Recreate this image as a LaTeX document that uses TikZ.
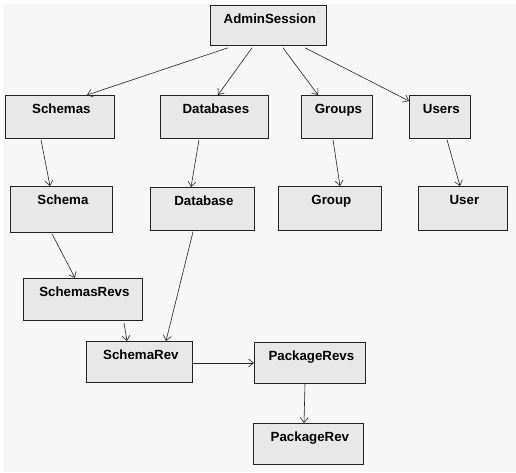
\documentclass[tikz,border=0pt]{standalone}
\usepackage{fontspec}
\setmainfont{Liberation Sans}
\usetikzlibrary{arrows.meta}
\definecolor{bgc}{HTML}{F7F7F7}
\definecolor{boxc}{HTML}{E8E8E8}
\definecolor{linec}{HTML}{222222}
\tikzset{
  cls/.style={draw=linec, line width=0.8pt, fill=boxc, anchor=north west, inner sep=0pt},
  lbl/.style={anchor=base, yshift=-18.5pt, xshift=1.5pt, inner sep=0pt, font=\fontsize{13.3}{15}\selectfont\bfseries},
  conn/.style={draw=linec, line width=0.6pt, -{Straight Barb[length=5pt,width=8pt]}}
}
\newcommand{\cbox}[7]{%
  \node[cls, minimum width=#4pt, minimum height=#5pt, label={[lbl]north:#6}] (#1) at (#2,#3) {};}
\begin{document}
\begin{tikzpicture}[x=1pt,y=-1pt]
\useasboundingbox (0,0) rectangle (516,472);
\fill[white] (0,0) rectangle (516,472);
\fill[bgc] (3,4) rectangle (516,472);
\cbox{admin}{210}{5}{116}{40}{AdminSession}{}
\cbox{schemas}{5}{95}{109}{43}{Schemas}{}
\cbox{databases}{160}{95}{108}{43}{Databases}{}
\cbox{groups}{301}{95}{71}{43}{Groups}{}
\cbox{users}{409}{95}{61}{43}{Users}{}
\cbox{schema}{10}{186}{102}{46}{Schema}{}
\cbox{database}{150}{187}{104}{43}{Database}{}
\cbox{group}{278}{186}{103}{44}{Group}{}
\cbox{user}{418}{186}{89}{44}{User}{}
\cbox{schemasrevs}{23}{278}{119}{42}{SchemasRevs}{}
\cbox{schemarev}{86}{341}{106}{41}{SchemaRev}{}
\cbox{packagerevs}{254}{342}{111}{41}{PackageRevs}{}
\cbox{packagerev}{253}{423}{110}{41}{PackageRev}{}
\draw[conn] ([xshift=18pt,yshift=-2pt]admin.south west) -- ([xshift=82pt]schemas.north west);
\draw[conn] ([xshift=42pt,yshift=-2pt]admin.south west) -- ([xshift=58pt]databases.north west);
\draw[conn] ([xshift=73pt,yshift=-2pt]admin.south west) -- ([xshift=17pt]groups.north west);
\draw[conn] ([xshift=95pt,yshift=-2pt]admin.south west) -- ([yshift=-6pt]users.north west);
\draw[conn] ([xshift=36pt,yshift=-1pt]schemas.south west) -- ([xshift=40pt]schema.north west);
\draw[conn] ([xshift=39pt,yshift=-1pt]databases.south west) -- ([xshift=41pt]database.north west);
\draw[conn] ([xshift=32pt,yshift=-1pt]groups.south west) -- ([xshift=62pt]group.north west);
\draw[conn] ([xshift=38pt,yshift=-1pt]users.south west) -- ([xshift=42pt]user.north west);
\draw[conn] ([xshift=42pt,yshift=-1pt]schema.south west) -- ([xshift=52pt]schemasrevs.north west);
\draw[conn] ([xshift=43pt,yshift=-1pt]database.south west) -- ([xshift=80pt]schemarev.north west);
\draw[conn] ([xshift=101pt,yshift=-2pt]schemasrevs.south west) -- ([xshift=41pt]schemarev.north west);
\draw[conn] ([yshift=-22pt]schemarev.north east) -- ([yshift=-21pt]packagerevs.north west);
\draw[conn] ([xshift=51pt]packagerevs.south west) -- ([xshift=51pt]packagerev.north west);
\end{tikzpicture}
\end{document}
